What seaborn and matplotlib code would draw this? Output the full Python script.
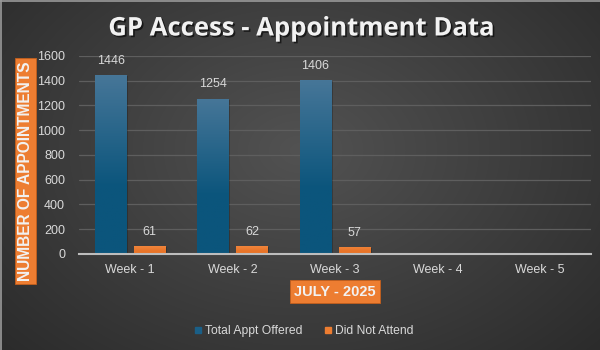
import numpy as np
import pandas as pd
import matplotlib
matplotlib.use("Agg")
import matplotlib.pyplot as plt
import matplotlib.patheffects as pe
from matplotlib.patches import Rectangle
from matplotlib.lines import Line2D
import seaborn as sns

# Weekly appointment figures, July 2025
weeks = ["Week - 1", "Week - 2", "Week - 3", "Week - 4", "Week - 5"]
total_offered = [1446, 1254, 1406, np.nan, np.nan]
did_not_attend = [61, 62, 57, np.nan, np.nan]
series_names = ["Total Appt Offered", "Did Not Attend"]
y_ticks = [0, 200, 400, 600, 800, 1000, 1200, 1400, 1600]

df = pd.DataFrame({
    "week": weeks * 2,
    "series": [series_names[0]] * len(weeks) + [series_names[1]] * len(weeks),
    "value": total_offered + did_not_attend,
})

sns.set_theme(style="dark")
plt.rcParams["font.family"] = ["Liberation Sans", "DejaVu Sans"]

BLUE = "#1a5f87"
ORANGE = "#ed7d31"
TXT = "#d9d9d9"

fig = plt.figure(figsize=(6, 3.5), dpi=100)

# radial background
bg = fig.add_axes([0, 0, 1, 1], zorder=-10)
yy, xx = np.mgrid[0:350, 0:600]
r = np.sqrt(((xx - 300) / 420.0) ** 2 + ((yy - 150) / 300.0) ** 2)
r = np.clip(r, 0, 1)
c_in = np.array([0x52, 0x52, 0x52]) / 255
c_out = np.array([0x2a, 0x2a, 0x2a]) / 255
img = c_in[None, None, :] * (1 - r[..., None]) + c_out[None, None, :] * r[..., None]
bg.imshow(img, extent=[0, 600, 350, 0], aspect="auto")
bg.set_xlim(0, 600)
bg.set_ylim(350, 0)
bg.axis("off")
# thin frame on top and left edges
bg.plot([0, 600], [0.5, 0.5], color="#9a9a9a", lw=1.2)
bg.plot([0.5, 0.5], [0, 350], color="#9a9a9a", lw=1.2)

ax = fig.add_axes([0.1317, 0.2743, 0.8533, 0.5657])
ax.set_facecolor("none")

sns.barplot(data=df, x="week", y="value", hue="series", order=weeks,
            hue_order=series_names, palette=[BLUE, ORANGE],
            width=0.76, gap=0.18, ax=ax, legend=False, saturation=1,
            linewidth=0, edgecolor="none")

ax.set_ylim(0, 1600)
ax.set_xlim(-0.5, len(weeks) - 0.5)
ax.set_yticks(y_ticks)
ax.yaxis.grid(True, color="#5e5e5e", lw=0.9)
ax.xaxis.grid(False)
ax.set_axisbelow(True)
for s in ["top", "right", "left"]:
    ax.spines[s].set_visible(False)
ax.spines["bottom"].set_color("#bdbdbd")
ax.spines["bottom"].set_linewidth(1.5)
ax.tick_params(axis="both", length=0, colors=TXT, labelsize=9)
ax.tick_params(axis="x", pad=7)
ax.tick_params(axis="y", pad=10)
ax.set_xlabel("")
ax.set_ylabel("")

# vertical gradient fill for each bar
grads = {
    0: (np.array([0x46, 0x76, 0x98]) / 255, np.array([0x0b, 0x55, 0x7c]) / 255),
    1: (np.array([0xf0, 0x85, 0x3c]) / 255, np.array([0xe8, 0x74, 0x28]) / 255),
}
for i, cont in enumerate(ax.containers):
    top_c, bot_c = grads[i]
    for p in cont.patches:
        h = p.get_height()
        if not np.isfinite(h) or h <= 0:
            continue
        x0, w = p.get_x(), p.get_width()
        t = np.linspace(0, 1, 64)[:, None, None]
        t = np.clip(t * 1.6, 0, 1)
        g = top_c * (1 - t) + bot_c * t
        # soft shadow
        sh = Rectangle((x0 + 0.012, 0), w, max(h - 8, 0), color="black",
                       alpha=0.22, lw=0, zorder=1.5)
        ax.add_patch(sh)
        im = ax.imshow(g, extent=[x0, x0 + w, 0, h], aspect="auto",
                       origin="upper", zorder=2)
        im.set_clip_path(p)
        p.set_zorder(2)
        p.set_linewidth(0)
    ax.bar_label(cont, fmt="%d", padding=6, color=TXT, fontsize=9)

ax.set_xlim(-0.5, len(weeks) - 0.5)
ax.set_ylim(0, 1600)

# title
fig.text(0.503, 0.92, "GP Access - Appointment Data", ha="center", va="center",
         fontsize=18.5, fontweight="bold", color="#f2f2f2", family="Open Sans",
         path_effects=[pe.withSimplePatchShadow(offset=(1.2, -1.2),
                                                shadow_rgbFace="black", alpha=0.6)])

# axis titles in orange boxes
fig.text(0.0425, 0.512, "NUMBER OF APPOINTMENTS", rotation=90, ha="center",
         va="center", fontsize=11.2, fontweight="bold", color="#f2f2f2",
         bbox=dict(boxstyle="square,pad=0.2", fc=ORANGE, ec="#c45f1c", lw=0.6))
fig.text(0.558, 0.167, "JULY - 2025", ha="center", va="center",
         fontsize=10.5, fontweight="bold", color="#f2f2f2",
         bbox=dict(boxstyle="square,pad=0.3", fc=ORANGE, ec="#c45f1c", lw=0.6))

handles = [Line2D([], [], marker="s", ls="none", markersize=5, color=BLUE),
           Line2D([], [], marker="s", ls="none", markersize=5, color=ORANGE)]
leg = fig.legend(handles, series_names, loc="center", bbox_to_anchor=(0.505, 0.053),
                 ncol=2, frameon=False, fontsize=8.7, handletextpad=0.1,
                 columnspacing=1.6, handlelength=1.0)
for t in leg.get_texts():
    t.set_color(TXT)

fig.savefig("out.png", dpi=100)
